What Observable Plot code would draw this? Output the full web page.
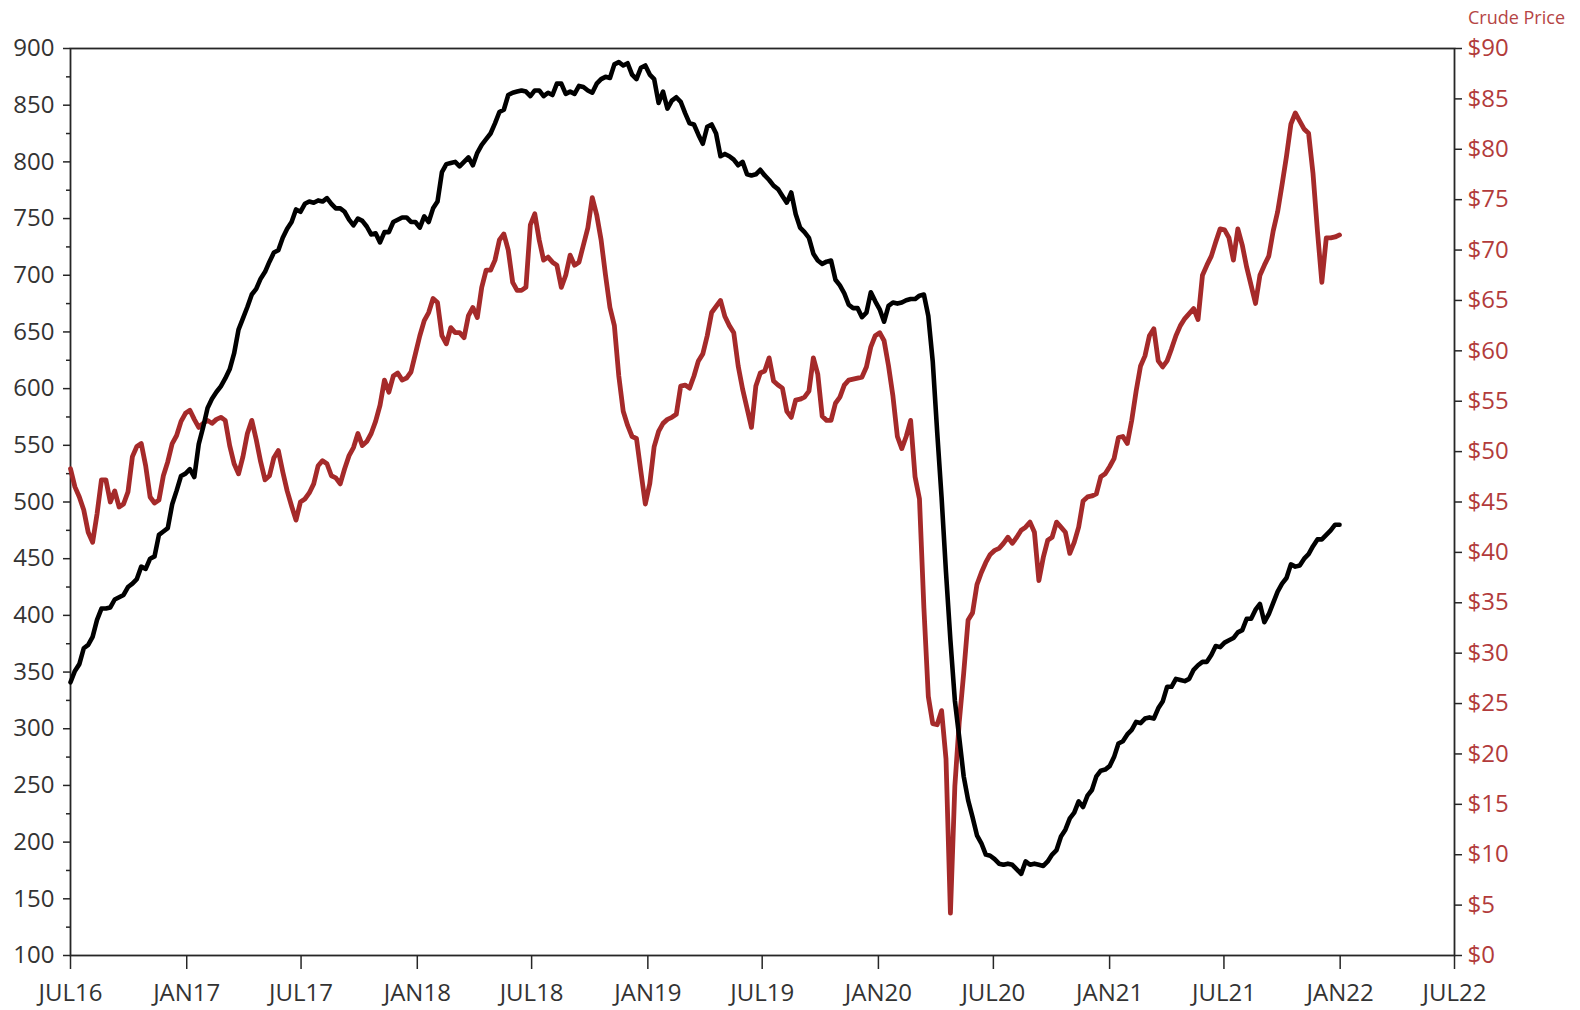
<!DOCTYPE html>
<html>
<head>
<meta charset="utf-8">
<script src="https://cdn.jsdelivr.net/npm/d3@7"></script>
<script src="https://cdn.jsdelivr.net/npm/@observablehq/plot@0.6"></script>
<style>
  html, body { margin: 0; padding: 0; background: #fff; }
  #wrap { position: relative; width: 1580px; height: 1010px; font-family: "Open Sans", sans-serif; }
  #rtitle { position: absolute; left: 1468px; top: 8px; font-size: 18px; line-height: 18px; color: #b54545; white-space: nowrap; }
</style>
</head>
<body>
<div id="wrap"><div id="rtitle">Crude Price</div></div>
<script>
// ---- Data (weekly, Fridays) ----
const firstFridays = ["2016-07-01", "2017-01-06", "2018-01-05", "2019-01-04", "2020-01-03", "2021-01-01"];

// Oil rig count (left axis)
const rig2016 = [341,351,357,371,374,381,396,406,406,407,414,416,418,425,428,432,443,441,450,452,471,474,477,498,510,523,525];
const rig2017 = [529,522,551,566,583,591,597,602,609,617,631,652,662,672,683,688,697,703,712,720,722,733,741,747,758,756,763,765,764,766,765,768,763,759,759,756,749,744,750,748,743,736,737,729,738,738,747,749,751,751,747,747];
const rig2018 = [742,752,747,759,765,791,798,799,800,796,800,804,797,808,815,820,825,834,844,846,859,861,862,863,862,858,863,863,858,861,859,869,869,860,862,860,867,866,863,861,869,873,875,874,886,888,885,887,877,873,883,885];
const rig2019 = [877,873,852,862,847,854,857,853,843,834,833,824,816,831,833,825,805,807,805,802,797,800,789,788,789,793,788,784,779,776,770,764,773,754,742,738,733,719,713,710,712,713,696,691,684,674,671,671,663,667,685,677];
const rig2020 = [670,659,673,676,675,676,678,679,679,682,683,664,624,562,504,438,378,325,292,258,237,222,206,199,189,188,185,181,180,181,180,176,172,183,180,181,180,179,183,189,193,205,211,221,226,236,231,241,246,258,263,264];
const rig2021 = [267,275,287,289,295,299,306,305,309,310,309,318,324,337,337,344,343,342,344,352,356,359,359,365,373,372,376,378,380,385,387,397,397,405,410,394,401,411,421,428,433,445,443,444,450,454,461,467,467,471,475,480,480];

// Crude price, $ (right axis)
const crude2016 = [48.3,46.5,45.5,44.2,42.0,41.0,43.8,47.2,47.2,45.0,46.1,44.5,44.8,46.0,49.5,50.5,50.8,48.6,45.5,44.9,45.2,47.6,49.0,50.8,51.6,53.0,53.8];
const crude2017 = [54.1,53.2,52.4,52.8,53.1,52.8,53.2,53.4,53.1,50.6,48.8,47.8,49.5,51.8,53.1,51.2,49.0,47.2,47.6,49.4,50.1,48.0,46.1,44.6,43.2,45.0,45.3,45.9,46.8,48.6,49.1,48.8,47.6,47.4,46.8,48.3,49.6,50.4,51.8,50.6,51.0,51.8,53.0,54.6,57.1,55.9,57.5,57.8,57.1,57.3,57.9,59.7];
const crude2018 = [61.5,63.0,63.8,65.2,64.8,61.5,60.7,62.3,61.8,61.8,61.3,63.5,64.3,63.3,66.3,68.0,68.0,69.0,71.0,71.6,70.0,66.8,66.0,66.0,66.3,72.5,73.6,71.0,69.0,69.3,68.8,68.5,66.3,67.5,69.5,68.5,68.8,70.5,72.2,75.2,73.5,71.0,67.5,64.3,62.5,57.5,54.0,52.6,51.5,51.3,48.0,44.8];
const crude2019 = [46.8,50.5,52.0,52.8,53.2,53.4,53.7,56.5,56.6,56.3,57.5,59.0,59.7,61.5,63.8,64.4,65.0,63.4,62.5,61.8,58.5,56.2,54.3,52.4,56.5,57.8,58.0,59.3,57.0,56.6,56.3,54.0,53.4,55.1,55.2,55.4,56.0,59.3,57.7,53.5,53.1,53.1,54.8,55.4,56.6,57.1,57.2,57.3,57.4,58.4,60.4,61.5];
const crude2020 = [61.8,61.0,58.5,55.5,51.5,50.3,51.5,53.1,47.5,45.3,34.5,25.7,23.0,22.9,24.3,19.5,4.2,16.8,23.2,28.0,33.3,34.0,36.8,38.0,39.0,39.8,40.2,40.4,40.9,41.5,40.9,41.5,42.2,42.5,43.0,42.0,37.2,39.5,41.2,41.5,43.0,42.5,42.0,39.9,41.0,42.5,45.1,45.5,45.6,45.8,47.5,47.8];
const crude2021 = [48.5,49.3,51.4,51.5,50.8,53.1,56.0,58.5,59.5,61.5,62.2,59.0,58.4,59.0,60.2,61.5,62.5,63.2,63.7,64.2,63.1,67.5,68.5,69.4,70.8,72.1,72.0,71.2,69.0,72.1,70.5,68.3,66.5,64.7,67.5,68.5,69.4,71.9,73.8,76.5,79.3,82.5,83.6,82.8,82.0,81.6,77.6,71.9,66.8,71.2,71.2,71.3,71.5];

// Axes
const xDomain = ["2016-07-01", "2022-07-01"];
const xTickDates = ["2016-07-01","2017-01-01","2017-07-01","2018-01-01","2018-07-01","2019-01-01","2019-07-01","2020-01-01","2020-07-01","2021-01-01","2021-07-01","2022-01-01","2022-07-01"];
const xTickLabels = ["JUL16","JAN17","JUL17","JAN18","JUL18","JAN19","JUL19","JAN20","JUL20","JAN21","JUL21","JAN22","JUL22"];
const leftDomain = [100, 900];
const leftTicks = d3.range(100, 901, 50);
const leftMinorTicks = d3.range(125, 900, 50);
const rightDomain = [0, 90];
const rightTicks = d3.range(0, 91, 5);

// ---- Build tables ----
function weekly(start, values, key) {
  const t0 = new Date(start + "T00:00:00Z");
  return values.map((v, i) => ({date: d3.utcDay.offset(t0, 7 * i), [key]: v}));
}
const rigs = [rig2016, rig2017, rig2018, rig2019, rig2020, rig2021]
  .flatMap((vals, i) => weekly(firstFridays[i], vals, "rigs"));
const crude = [crude2016, crude2017, crude2018, crude2019, crude2020, crude2021]
  .flatMap((vals, i) => weekly(firstFridays[i], vals, "price"));

// map price onto left scale
const toLeft = p => leftDomain[0] + (p - rightDomain[0]) * (leftDomain[1] - leftDomain[0]) / (rightDomain[1] - rightDomain[0]);
const toPrice = v => rightDomain[0] + (v - leftDomain[0]) * (rightDomain[1] - rightDomain[0]) / (leftDomain[1] - leftDomain[0]);

const parse = s => new Date(s + "T00:00:00Z");
const labelOf = new Map(xTickDates.map((d, i) => [+parse(d), xTickLabels[i]]));

const axisColor = "#262626";
const textColor = "#333333";
const redText = "#b23b3b";

const chart = Plot.plot({
  width: 1580,
  height: 1010,
  marginTop: 48,
  marginBottom: 55,
  marginLeft: 70,
  marginRight: 126,
  style: {fontFamily: "'Open Sans', sans-serif", fontSize: "24px", background: "white", overflow: "visible"},
  x: {type: "utc", domain: xDomain.map(parse), label: null},
  y: {domain: leftDomain, label: null},
  marks: [
    Plot.axisY({ticks: leftMinorTicks, tickSize: 4, tickFormat: () => "", stroke: axisColor, strokeWidth: 1.5, label: null}),
    Plot.axisY({ticks: leftTicks, tickSize: 7, tickPadding: 9, stroke: axisColor, strokeWidth: 1.5, fill: textColor, label: null}),
    Plot.axisY({anchor: "right", ticks: rightTicks.map(toLeft), tickSize: 7, tickPadding: 6,
      tickFormat: d => "$" + Math.round(toPrice(d)), stroke: axisColor, strokeWidth: 1.5, fill: redText, label: null}),
    Plot.axisX({ticks: xTickDates.map(parse), tickSize: 14, tickPadding: 14,
      tickFormat: d => labelOf.get(+d), stroke: axisColor, strokeWidth: 1.5, fill: textColor, label: null}),
    Plot.frame({stroke: axisColor, strokeWidth: 1.8}),
    Plot.line(crude, {x: "date", y: d => toLeft(d.price), stroke: "#a52a2a", strokeWidth: 4.8}),
    Plot.line(rigs, {x: "date", y: "rigs", stroke: "#000000", strokeWidth: 4.6})
  ]
});

document.getElementById("wrap").prepend(chart);
</script>
</body>
</html>
